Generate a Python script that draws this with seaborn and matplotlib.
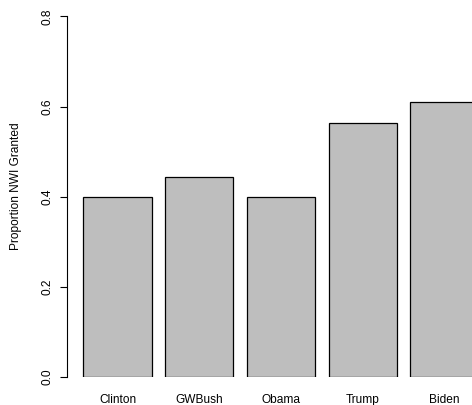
import matplotlib
matplotlib.use("Agg")
import matplotlib.pyplot as plt
import seaborn as sns
import pandas as pd

# Share of NWI requests granted, by administration
presidents = ["Clinton", "GWBush", "Obama", "Trump", "Biden"]
proportion_granted = [0.400, 0.444, 0.400, 0.564, 0.609]
y_ticks = [0.0, 0.2, 0.4, 0.6, 0.8]
y_tick_labels = ["0.0", "0.2", "0.4", "0.6", "0.8"]

sns.set_theme(style="white")
plt.rcParams["font.family"] = ["Liberation Sans", "DejaVu Sans"]

FS = 8.6  # points at 100 dpi, about 12 px

W, H = 472, 405
fig = plt.figure(figsize=(W / 100, H / 100), dpi=100)
fig.patch.set_facecolor("white")

# plot region in pixels (left, right, bottom, top measured from the top edge)
left_px, right_px, bottom_px, top_px = 67.4, 495.9, 376.7, 16.5
ax = fig.add_axes([left_px / W, (H - bottom_px) / H,
                   (right_px - left_px) / W, (bottom_px - top_px) / H])
ax.set_facecolor("white")

df = pd.DataFrame({"president": presidents, "proportion": proportion_granted})
sns.barplot(data=df, x="president", y="proportion", order=presidents,
            color="#bebebe", saturation=1, width=1 / 1.2, errorbar=None,
            edgecolor="black", linewidth=0.9, ax=ax)

ax.set_xlim(-0.613, 4.632)
ax.set_ylim(0, 0.8)
ax.set_xlabel("")

for side in ("top", "right", "bottom"):
    ax.spines[side].set_visible(False)
ax.spines["left"].set_color("black")
ax.spines["left"].set_linewidth(0.8)
ax.spines["left"].set_bounds(0, 0.8)

ax.set_yticks(y_ticks)
ax.set_yticklabels(y_tick_labels, rotation=90, va="center")
ax.tick_params(axis="y", left=True, length=5.2, width=0.8, color="black",
               direction="out", labelsize=FS, pad=4.7, labelcolor="black")
ax.tick_params(axis="x", bottom=False, length=0, labelsize=FS, pad=12.3,
               labelcolor="black")

ax.set_ylabel("Proportion NWI Granted", fontsize=FS, color="black")
ax.yaxis.label.set_va("center")
ax.yaxis.label.set_ha("center")
ax.yaxis.set_label_coords((16 - left_px) / (right_px - left_px),
                          (bottom_px - 186) / (bottom_px - top_px))

fig.savefig("out.png", dpi=100, facecolor="white")
